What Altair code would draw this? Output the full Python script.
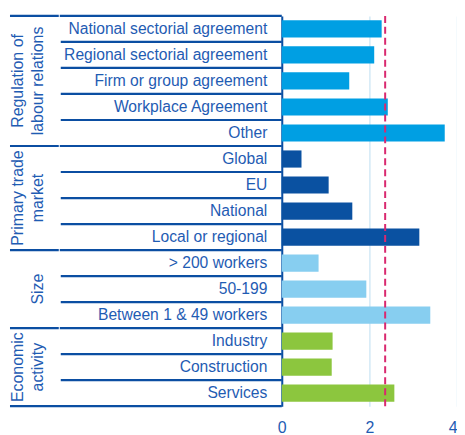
import altair as alt
import pandas as pd

rows = ["National sectorial agreement", "Regional sectorial agreement", "Firm or group agreement",
        "Workplace Agreement", "Other", "Global", "EU", "National", "Local or regional",
        "> 200 workers", "50-199", "Between 1 & 49 workers", "Industry", "Construction", "Services"]
groups = ["Regulation"] * 5 + ["Primary"] * 4 + ["Size"] * 3 + ["Economic"] * 3
values = [2.28, 2.11, 1.54, 2.42, 3.72, 0.45, 1.07, 1.61, 3.14, 0.84, 1.93, 3.39, 1.16, 1.14, 2.57]
average = 2.36
group_names = ["Regulation", "Primary", "Size", "Economic"]
group_colors = ["#009FE3", "#0A51A1", "#87CEF0", "#8CC63E"]
group_titles = [["Regulation of", "labour relations"], ["Primary trade", "market"], ["", "Size"], ["Economic", "activity"]]
x_ticks = [0, 2, 4]

TXT = "#1F5CB3"
LINE = "#0B4EA2"
FONT = "Liberation Sans"

df = pd.DataFrame({"row": rows, "group": groups, "value": values})
first_rows = [rows[groups.index(g)] for g in group_names]
inner_rows = pd.DataFrame({"row": [r for r in rows if r not in first_rows]})
group_first = pd.DataFrame({"row": first_rows})
last_row = pd.DataFrame({"row": [rows[-1]]})

# group label anchors
odd_anchor, even_anchor = [], []
for g, t in zip(group_names, group_titles):
    members = [r for r, gg in zip(rows, groups) if gg == g]
    n = len(members)
    if n % 2 == 1:
        odd_anchor.append({"row": members[n // 2], "title": t})
    else:
        even_anchor.append({"row": members[n // 2 - 1], "title": t})

yscale = alt.Scale(domain=rows, paddingInner=0, paddingOuter=0)
ysort = rows

bars = alt.Chart(df).mark_bar(height={"band": 0.66}).encode(
    y=alt.Y("row:N", sort=ysort, scale=yscale,
            axis=alt.Axis(title=None, ticks=False, domain=True, domainColor=LINE, domainWidth=2,
                          labelColor=TXT, labelFontSize=15.7, labelFont=FONT, labelPadding=15,
                          labelLimit=400, grid=False)),
    x=alt.X("value:Q", scale=alt.Scale(domain=[0, 4], nice=False),
            axis=alt.Axis(title=None, values=x_ticks, domain=False, ticks=False, grid=True,
                          gridColor="#D3E9F6", gridWidth=1.5, labelColor=TXT, labelFontSize=16,
                          labelFont=FONT, labelPadding=13, labelFlush=False,
                          labelAlign={"expr": "datum.value == 4 ? 'right' : 'center'"},
                          format="d")),
    color=alt.Color("group:N", scale=alt.Scale(domain=group_names, range=group_colors), legend=None),
)

avg = alt.Chart(pd.DataFrame({"avg": [average]})).mark_rule(
    color="#D9296F", strokeDash=[7, 4], strokeWidth=2
).encode(x="avg:Q")

row_rules = alt.Chart(inner_rows).mark_rule(color=LINE, strokeWidth=2.2).encode(
    y=alt.Y("row:N", sort=ysort, scale=yscale, bandPosition=0),
    x=alt.value(-222), x2=alt.value(0))

grp_rules_a = alt.Chart(group_first).mark_rule(color=LINE, strokeWidth=2.2).encode(
    y=alt.Y("row:N", sort=ysort, scale=yscale, bandPosition=0),
    x=alt.value(-273), x2=alt.value(-224))
grp_rules_b = alt.Chart(group_first).mark_rule(color=LINE, strokeWidth=2.2).encode(
    y=alt.Y("row:N", sort=ysort, scale=yscale, bandPosition=0),
    x=alt.value(-223), x2=alt.value(0))

bottom_rule = alt.Chart(last_row).mark_rule(color=LINE, strokeWidth=2.2).encode(
    y=alt.Y("row:N", sort=ysort, scale=yscale, bandPosition=1),
    x=alt.value(-273), x2=alt.value(0))

txt_kw = dict(angle=270, align="center", baseline="middle", color=TXT, fontSize=16,
              font=FONT, lineHeight=20)
gtext_odd = alt.Chart(pd.DataFrame(odd_anchor)).mark_text(**txt_kw).encode(
    y=alt.Y("row:N", sort=ysort, scale=yscale, bandPosition=0.5),
    x=alt.value(-265), text="title")
gtext_even = alt.Chart(pd.DataFrame(even_anchor)).mark_text(**txt_kw).encode(
    y=alt.Y("row:N", sort=ysort, scale=yscale, bandPosition=1),
    x=alt.value(-265), text="title")

chart = alt.layer(bars, avg, row_rules, grp_rules_a, grp_rules_b, bottom_rule,
                  gtext_odd, gtext_even).properties(
    width=176, height=392,
    autosize=alt.AutoSizeParams(type="none"),
    padding={"left": 275, "top": 7, "right": 0, "bottom": 28}
).configure_view(stroke=None)

chart.save("out.html", embed_options={"renderer": "svg", "actions": False})
